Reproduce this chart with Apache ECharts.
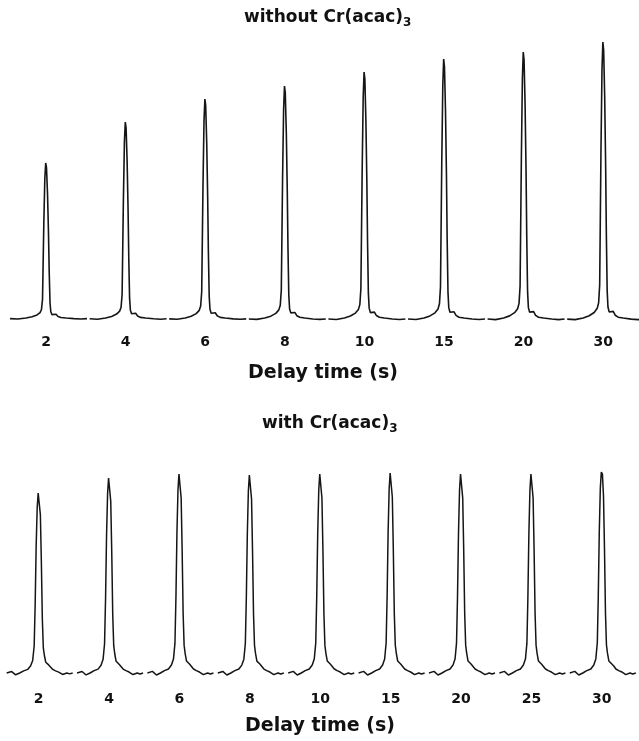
<!DOCTYPE html>
<html>
<head>
<meta charset="utf-8">
<script src="https://cdn.jsdelivr.net/npm/echarts@6/dist/echarts.min.js"></script>
<style>
html,body{margin:0;padding:0;background:#fff;}
#chart{width:639px;height:741px;}
</style>
</head>
<body>
<div id="chart"></div>
<script>
// ---- data ----
const topLabels = ['2', '4', '6', '8', '10', '15', '20', '30'];
const topHeights = [155, 196, 219, 232, 246, 259, 266, 276];
const bottomLabels = ['2', '4', '6', '8', '10', '15', '20', '25', '30'];
const bottomHeights = [180, 195, 199, 198, 199, 200, 199, 199, 201];

// peak profile [offset from peak (in peak spacings), fraction of peak height]
const topProfile = [
  [-0.452, -0.004], [-0.352, -0.006], [-0.251, 0.0], [-0.176, 0.008], [-0.113, 0.02],
  [-0.075, 0.035], [-0.057, 0.055], [-0.044, 0.12], [-0.038, 0.3], [-0.028, 0.6],
  [-0.015, 0.9], [-0.004, 1.0], [0.006, 0.97], [0.019, 0.8], [0.031, 0.55],
  [0.040, 0.3], [0.050, 0.1], [0.060, 0.04], [0.075, 0.022], [0.10, 0.02],
  [0.126, 0.024], [0.151, 0.01], [0.188, 0.003], [0.251, 0.0], [0.352, -0.004],
  [0.44, -0.006], [0.515, -0.004]
];
const bottomProfile = [
  [-0.455, 0.0], [-0.384, 0.008], [-0.327, -0.01], [-0.27, 0.0], [-0.213, 0.012],
  [-0.156, 0.02], [-0.114, 0.04], [-0.085, 0.07], [-0.064, 0.15], [-0.05, 0.38],
  [-0.036, 0.7], [-0.021, 0.92], [-0.007, 1.0], [0.009, 0.99], [0.024, 0.88],
  [0.038, 0.62], [0.052, 0.3], [0.066, 0.14], [0.08, 0.1], [0.1, 0.06],
  [0.121, 0.065], [0.142, 0.045], [0.17, 0.035], [0.2, 0.02], [0.24, 0.012],
  [0.284, 0.005], [0.34, -0.008], [0.4, 0.0], [0.44, -0.005], [0.483, 0.0]
];

function buildTrace(heights, profile) {
  const out = [];
  heights.forEach(function (h, i) {
    profile.forEach(function (p) { out.push([i + p[0], h * p[1]]); });
    out.push([i + 0.5, '-']);
  });
  return out;
}

const FONT = 'DejaVu Sans';
const INK = '#111';

const chart = echarts.init(document.getElementById('chart'), null, { renderer: 'canvas' });

function xAxisFor(gridIndex, labels, min, max, margin) {
  return {
    type: 'value', gridIndex: gridIndex, min: min, max: max,
    axisLine: { show: false }, axisTick: { show: false }, splitLine: { show: false },
    axisLabel: {
      customValues: labels.map(function (_, i) { return i; }),
      formatter: function (v) { return labels[Math.round(v)]; },
      fontFamily: FONT, fontWeight: 'bold', fontSize: 14, color: INK, margin: margin
    }
  };
}

function yAxisFor(gridIndex, min, max) {
  return {
    type: 'value', gridIndex: gridIndex, min: min, max: max, show: false,
    splitLine: { show: false }
  };
}

const titleRich = function (size) {
  return {
    a: { fontFamily: FONT, fontWeight: 'bold', fontSize: size, color: INK, lineHeight: 22 },
    s: { fontFamily: FONT, fontWeight: 'bold', fontSize: 12, color: INK, lineHeight: 22, verticalAlign: 'bottom' }
  };
};

chart.setOption({
  animation: false,
  backgroundColor: '#fff',
  title: [
    { text: '{a|without Cr(acac)}{s|3}', left: 244, top: 7,
      textStyle: { rich: titleRich(17) }, padding: 0 },
    { text: 'Delay time (s)', left: 248, top: 364,
      textStyle: { fontFamily: FONT, fontWeight: 'bold', fontSize: 19, color: INK }, padding: 0 },
    { text: '{a|with Cr(acac)}{s|3}', left: 262, top: 413,
      textStyle: { rich: titleRich(17) }, padding: 0 },
    { text: 'Delay time (s)', left: 245, top: 717,
      textStyle: { fontFamily: FONT, fontWeight: 'bold', fontSize: 19, color: INK }, padding: 0 }
  ],
  grid: [
    { left: 10.2, right: 0, top: 38, height: 290 },
    { left: 7, right: 2, top: 463, height: 220 }
  ],
  xAxis: [
    xAxisFor(0, topLabels, -0.45, 7.45, 7),
    xAxisFor(1, bottomLabels, -0.45, 8.5, 9)
  ],
  yAxis: [
    yAxisFor(0, -10, 280),
    yAxisFor(1, -10, 210)
  ],
  series: [
    { type: 'line', xAxisIndex: 0, yAxisIndex: 0, data: buildTrace(topHeights, topProfile),
      showSymbol: false, symbol: 'none', connectNulls: false,
      lineStyle: { color: '#151515', width: 1.6 } },
    { type: 'line', xAxisIndex: 1, yAxisIndex: 1, data: buildTrace(bottomHeights, bottomProfile),
      showSymbol: false, symbol: 'none', connectNulls: false,
      lineStyle: { color: '#151515', width: 1.5 } }
  ]
});
</script>
</body>
</html>
